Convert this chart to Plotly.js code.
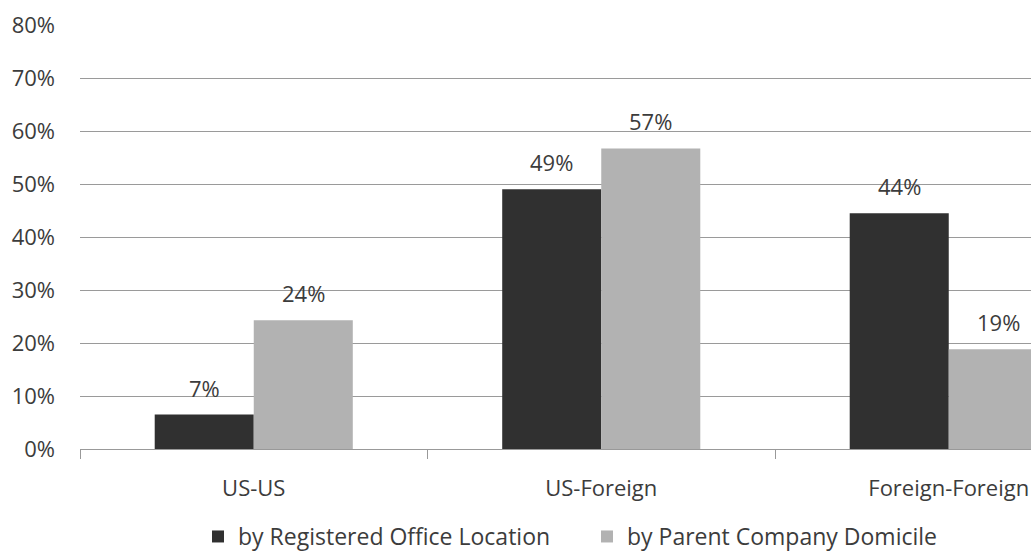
<!DOCTYPE html>
<html>
<head>
<meta charset="utf-8">
<script src="https://cdn.plot.ly/plotly-3.0.1.min.js"></script>
<style>
html,body{margin:0;padding:0;background:#fff;overflow:hidden;}
#chart{width:1031px;height:552px;}
</style>
</head>
<body>
<div id="chart"></div>
<script>
const categories = ["US-US", "US-Foreign", "Foreign-Foreign"];
const seriesNames = ["by Registered Office Location", "by Parent Company Domicile"];
const registeredValues = [6.5, 49.0, 44.5];
const parentValues = [24.3, 56.7, 18.8];
const registeredLabels = ["7%", "49%", "44%"];
const parentLabels = ["24%", "57%", "19%"];
const yTickValues = [0, 10, 20, 30, 40, 50, 60, 70, 80];
const yTickLabels = ["0%", "10%", "20%", "30%", "40%", "50%", "60%", "70%", "80%"];

const FONT = "Open Sans, Noto Sans, sans-serif";
const TXT = "#3c3c3c";

const traces = [
  {type: "bar", name: seriesNames[0], x: categories, y: registeredValues,
   marker: {color: "#303030"}, hoverinfo: "skip", legend: "legend", showlegend: true},
  {type: "bar", name: seriesNames[1], x: categories, y: parentValues,
   marker: {color: "#b2b2b2"}, hoverinfo: "skip", legend: "legend2", showlegend: true}
];

const annotations = [];
[[registeredValues, registeredLabels, -49.5], [parentValues, parentLabels, 49.5]].forEach(([vals, labs, xs]) => {
  vals.forEach((v, i) => {
    annotations.push({x: categories[i], y: v, xref: "x", yref: "y", text: labs[i],
      showarrow: false, yanchor: "bottom", xanchor: "center", xshift: xs, yshift: 10,
      font: {family: FONT, size: 22, color: TXT}});
  });
});

const legendBase = {orientation: "h", xanchor: "left", yref: "paper", y: -0.1557, yanchor: "top",
  font: {family: FONT, size: 23, color: TXT}, itemclick: false, bgcolor: "rgba(0,0,0,0)", visible: true};

const layout = {
  width: 1031, height: 552,
  showlegend: true,
  margin: {l: 80, r: 0, t: 25, b: 103, autoexpand: false},
  paper_bgcolor: "#fff", plot_bgcolor: "#fff",
  barmode: "group", bargap: 0.43, bargroupgap: 0,
  font: {family: FONT, size: 22, color: TXT},
  xaxis: {type: "category", range: [-0.5, 2.2367], tickson: "boundaries",
    ticks: "outside", ticklen: 9, tickcolor: "#999", showline: true, linecolor: "#999",
    showgrid: false, fixedrange: true, ticklabelstandoff: 20, automargin: false,
    tickfont: {family: FONT, size: 22, color: TXT}},
  yaxis: {range: [0, 80], tickvals: yTickValues, ticktext: yTickLabels, showgrid: true,
    gridcolor: "#9a9a9a", gridwidth: 1, zeroline: true, zerolinecolor: "#999",
    showline: false, ticks: "", ticklabelstandoff: 24, fixedrange: true, automargin: false,
    tickfont: {family: FONT, size: 22, color: TXT}},
  legend: Object.assign({}, legendBase, {x: 0.1241}),
  legend2: Object.assign({}, legendBase, {x: 0.5331}),
  annotations: annotations
};

Plotly.newPlot("chart", traces, layout, {displayModeBar: false, staticPlot: true});
</script>
</body>
</html>
